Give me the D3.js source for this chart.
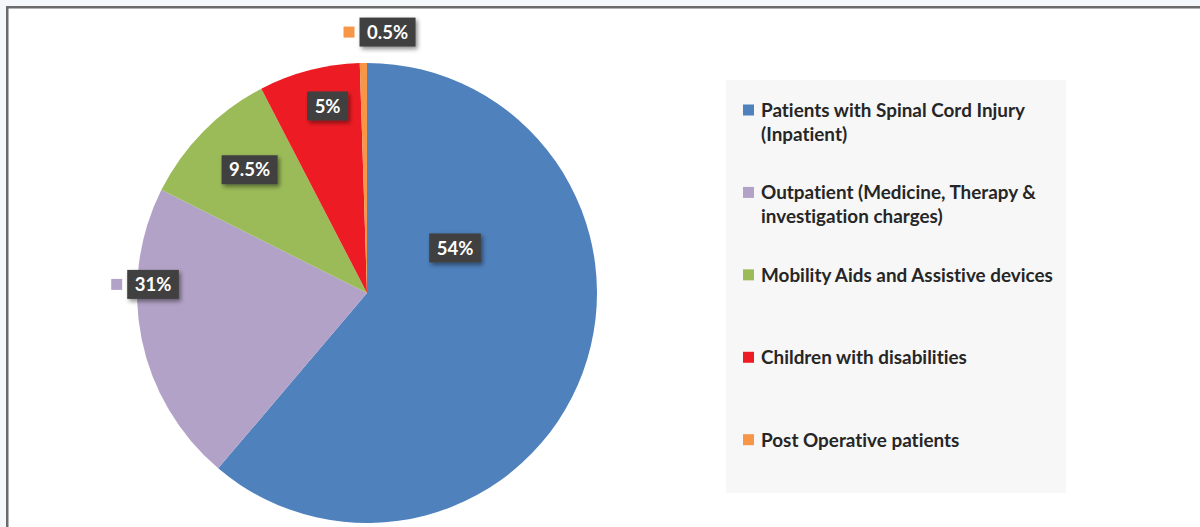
<!DOCTYPE html>
<html>
<head>
<meta charset="utf-8">
<script src="https://cdn.jsdelivr.net/npm/d3@7"></script>
<style>
  html, body { margin: 0; padding: 0; background: #f4f8fb; }
  svg { display: block; }
  text { font-variant-ligatures: none; font-feature-settings: "liga" 0, "clig" 0, "dlig" 0; letter-spacing: 0.01px; }
</style>
</head>
<body>
<svg id="chart" width="1200" height="527"></svg>
<script>
// ---- data ----
const categories = [
  "Patients with Spinal Cord Injury (Inpatient)",
  "Outpatient (Medicine, Therapy & investigation charges)",
  "Mobility Aids and Assistive devices",
  "Children with disabilities",
  "Post Operative patients"
];
// slice sizes as drawn (percent of the circle)
const sliceValues = [61.2, 21.2, 10.0, 7.1, 0.5];
// label texts as printed on the chart
const labelTexts = ["54%", "31%", "9.5%", "5%", "0.5%"];
const colors = ["#4f81bd", "#b3a2c7", "#9bbb59", "#ed1c24", "#f79646"];
// label placement: angle (deg, clockwise from top) and radius fraction; marker shown next to outer labels
const labelPlacement = [
  { a: 62.9, r: 0.43, marker: false },
  { a: 272.3, r: 0.931, marker: true },
  { a: 316.4, r: 0.74, marker: false },
  { a: 348.1, r: 0.831, marker: false },
  { a: 4.5, r: 1.138, marker: true }
];

const svg = d3.select("#chart");
const W = 1200, H = 527;

// frame
svg.append("rect").attr("x", 6).attr("y", 6).attr("width", W).attr("height", H)
  .attr("fill", "#ffffff");
svg.append("path").attr("d", `M7.25,${H + 5} L7.25,7.25 L${W + 5},7.25`)
  .attr("fill", "none").attr("stroke", "#6b6b6b").attr("stroke-width", 2.5);

// defs: shadow
const defs = svg.append("defs");
const f = defs.append("filter").attr("id", "shadow")
  .attr("x", "-30%").attr("y", "-30%").attr("width", "160%").attr("height", "160%");
f.append("feDropShadow").attr("dx", 2).attr("dy", 2.5).attr("stdDeviation", 2)
  .attr("flood-color", "#000").attr("flood-opacity", 0.45);

// pie
const cx = 367, cy = 293, R = 230;
const pie = d3.pie().sort(null).value(d => d);
const arcs = pie(sliceValues);
const arc = d3.arc().innerRadius(0).outerRadius(R);
const g = svg.append("g").attr("transform", `translate(${cx},${cy})`);
g.selectAll("path.slice").data(arcs).enter().append("path")
  .attr("class", "slice")
  .attr("d", arc)
  .attr("fill", (d, i) => colors[i]);

// labels
const labelFont = "Lato, 'Open Sans', sans-serif";
const lg = g.selectAll("g.lbl").data(arcs).enter().append("g").attr("class", "lbl")
  .attr("transform", (d, i) => {
    const p = labelPlacement[i];
    const a = p.a * Math.PI / 180;
    return `translate(${Math.sin(a) * p.r * R},${-Math.cos(a) * p.r * R})`;
  });
lg.each(function (d, i) {
  const sel = d3.select(this);
  const t = sel.append("text")
    .attr("text-anchor", "middle")
    .attr("dy", "0.36em")
    .attr("font-family", labelFont)
    .attr("font-weight", "bold")
    .attr("font-size", 18.5)
    .attr("fill", "#ffffff")
    .text(labelTexts[i]);
  const w = t.node().getComputedTextLength();
  const bw = w + 15, bh = 29;
  sel.insert("rect", "text")
    .attr("x", -bw / 2).attr("y", -bh / 2)
    .attr("width", bw).attr("height", bh)
    .attr("fill", "#404040")
    .attr("filter", "url(#shadow)");
  if (labelPlacement[i].marker) {
    sel.append("rect")
      .attr("x", -bw / 2 - 16).attr("y", -5.5)
      .attr("width", 11).attr("height", 11)
      .attr("fill", colors[i]);
  }
});

// legend
const legX = 726, legY = 80, legW = 340, legH = 413;
svg.append("rect").attr("x", legX).attr("y", legY).attr("width", legW).attr("height", legH)
  .attr("fill", "#f7f7f7");

const legendFont = "Lato, 'Open Sans', sans-serif";
// fit font size to measured width of the longest single line
const probe = svg.append("text").attr("font-family", legendFont).attr("font-weight", "bold")
  .attr("font-size", 18).text(categories[2]);
const fs = 18 * 292 / probe.node().getComputedTextLength();
probe.remove();

const ly = d3.scalePoint().domain(categories).range([117, 446.7]);
const lineH = 24;
const items = svg.selectAll("g.leg").data(categories).enter().append("g").attr("class", "leg")
  .attr("transform", d => `translate(0,${ly(d)})`);
items.append("rect").attr("x", 743).attr("y", -12.5).attr("width", 11).attr("height", 11)
  .attr("fill", (d, i) => colors[i]);
items.each(function (d) {
  const sel = d3.select(this);
  const t = sel.append("text").attr("x", 761).attr("y", 0)
    .attr("font-family", legendFont).attr("font-weight", "bold")
    .attr("font-size", fs).attr("fill", "#262626");
  const words = d.split(" ");
  let line = [], lineNo = 0;
  let ts = t.append("tspan").attr("x", 761).attr("y", 0);
  words.forEach(wd => {
    line.push(wd);
    ts.text(line.join(" "));
    if (ts.node().getComputedTextLength() > 298 && line.length > 1) {
      line.pop();
      ts.text(line.join(" "));
      line = [wd];
      lineNo++;
      ts = t.append("tspan").attr("x", 761).attr("y", lineNo * lineH).text(wd);
    }
  });
});
</script>
</body>
</html>
